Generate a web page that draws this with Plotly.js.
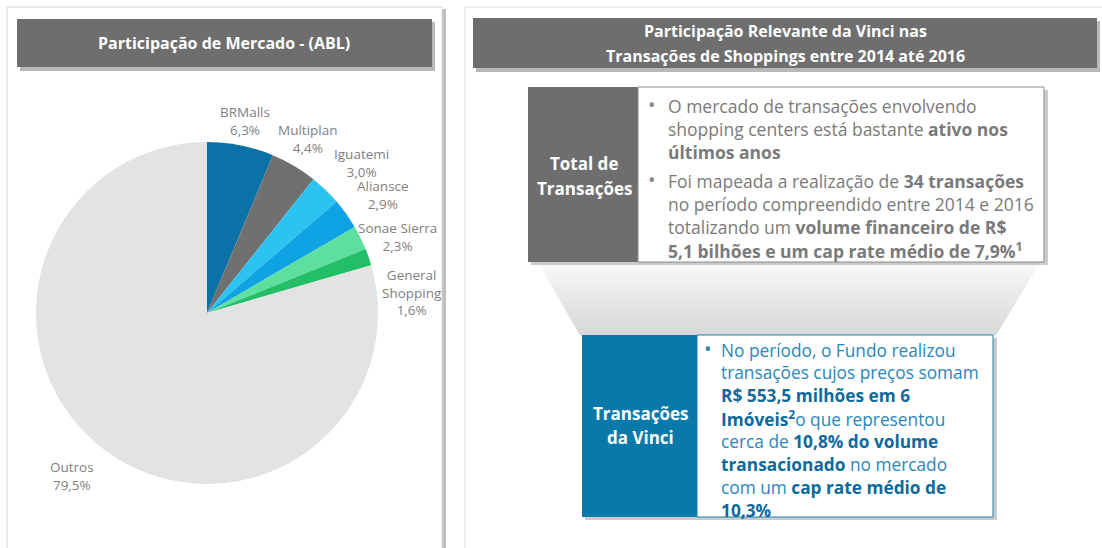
<!DOCTYPE html>
<html>
<head>
<meta charset="utf-8">
<script src="https://cdn.plot.ly/plotly-3.0.1.min.js"></script>
<style>
html,body{margin:0;padding:0;background:#fff;}
#chart{width:1102px;height:548px;}
</style>
</head>
<body>
<div id="chart"></div>
<script>
// ---------- DATA ----------
const companies = ["BRMalls", "Multiplan", "Iguatemi", "Aliansce", "Sonae Sierra", "General Shopping", "Outros"];
const shares = [6.3, 4.4, 3.0, 2.9, 2.3, 1.6, 79.5];
const sliceColors = ["#0a72a6", "#707070", "#2cc3f0", "#0fa3e3", "#5fdf9f", "#22bf68", "#e3e3e3"];
const labelText = ["BRMalls", "Multiplan", "Iguatemi", "Aliansce", "Sonae Sierra", "General<br>Shopping", "Outros"];

const leftTitle = "Participação de Mercado - (ABL)";
const rightTitle = ["Participação Relevante da Vinci nas", "Transações de Shoppings entre 2014 até 2016"];
const totalLabel = ["Total de", "Transações"];
const vinciLabel = ["Transações", "da Vinci"];
const totalBullets = [
  ["O mercado de transações envolvendo",
   "shopping centers está bastante <b>ativo nos</b>",
   "<b>últimos anos</b>"],
  ["Foi mapeada a realização de <b>34 transações</b>",
   "no período compreendido entre 2014 e 2016",
   "totalizando um <b>volume financeiro de R$</b>",
   "<b>5,1 bilhões e um cap rate médio de 7,9%<sup>1</sup></b>"]
];
const vinciBullets = [
  ["No período, o Fundo realizou",
   "transações cujos preços somam",
   "<b>R$ 553,5 milhões em 6</b>",
   "<b>Imóveis<sup>2</sup></b>o que representou",
   "cerca de <b>10,8% do volume</b>",
   "<b>transacionado</b> no mercado",
   "com um <b>cap rate médio de</b>",
   "<b>10,3%</b>"]
];

// ---------- LAYOUT HELPERS ----------
const W = 1102, H = 548;
const px = x => x / W;
const py = y => 1 - y / H;
const FONT = "Open Sans, Noto Sans, sans-serif";

function rect(x0, y0, x1, y1, fill, line, lw, opacity) {
  return {type: "rect", xref: "paper", yref: "paper", layer: "below",
    x0: px(x0), x1: px(x1), y0: py(y1), y1: py(y0),
    fillcolor: fill, opacity: opacity === undefined ? 1 : opacity,
    line: {color: line || "rgba(0,0,0,0)", width: lw || 0}};
}

const shapes = [];
// left panel
shapes.push(rect(442, 9, 446, 560, "#b8b8b8", null, 0, 0.9));
shapes.push(rect(7, 7, 442, 560, "#ffffff", "#d6d6d6", 1));
shapes.push(rect(20, 22, 435, 71, "#9a9a9a", null, 0, 0.7));
shapes.push(rect(17, 19, 432, 67, "#6e6e6e"));
// right panel
shapes.push(rect(465, 7, 1115, 560, "#ffffff", "#dcdcdc", 1));
shapes.push(rect(476, 21, 1100, 72, "#9a9a9a", null, 0, 0.7));
shapes.push(rect(473, 18, 1097, 68, "#6e6e6e"));

// funnel gradient (strips)
const fTop = 262, fBot = 335, fL0 = 538, fR0 = 1040, fL1 = 580, fR1 = 996;
const N = 30;
for (let i = 0; i < N; i++) {
  const t0 = i / N, t1 = (i + 1) / N;
  const y0 = fTop + (fBot - fTop) * t0, y1 = fTop + (fBot - fTop) * t1 + 0.6;
  const l0 = fL0 + (fL1 - fL0) * t0, r0 = fR0 + (fR1 - fR0) * t0;
  const l1 = fL0 + (fL1 - fL0) * t1, r1 = fR0 + (fR1 - fR0) * t1;
  const g = Math.round(252 - (252 - 216) * Math.pow((t0 + t1) / 2, 0.8));
  const c = `rgb(${g},${g},${g})`;
  shapes.push({type: "path", xref: "paper", yref: "paper", layer: "below",
    path: `M ${px(l0)},${py(y0)} L ${px(r0)},${py(y0)} L ${px(r1)},${py(y1)} L ${px(l1)},${py(y1)} Z`,
    fillcolor: c, line: {width: 0}});
}

// top box
shapes.push(rect(531, 90, 1048, 265, "#a8a8a8", null, 0, 0.6));
shapes.push(rect(528, 87, 638, 262, "#6e6e6e"));
shapes.push(rect(638, 87, 1044, 262, "#ffffff", "#8c8c8c", 1));
// bottom box
shapes.push(rect(585, 338, 997, 520, "#a8a8a8", null, 0, 0.6));
shapes.push(rect(582, 335, 697, 517, "#0a78a8"));
shapes.push(rect(697, 335, 993, 517, "#ffffff", "#1d80b0", 1));

// ---------- ANNOTATIONS ----------
const ann = [];
function txt(x, y, text, size, color, opts) {
  ann.push(Object.assign({xref: "paper", yref: "paper", x: px(x), y: py(y),
    text: text, showarrow: false, xanchor: "center", yanchor: "middle",
    font: {family: FONT, size: size, color: color}}, opts || {}));
}

txt(224, 43, "<b>" + leftTitle + "</b>", 16, "#ffffff");
txt(786, 31, "<b>" + rightTitle[0] + "</b>", 16, "#ffffff");
txt(786, 56, "<b>" + rightTitle[1] + "</b>", 16, "#ffffff");

txt(584, 164, "<b>" + totalLabel[0] + "</b>", 17, "#ffffff");
txt(584, 188, "<b>" + totalLabel[1] + "</b>", 17, "#ffffff");
txt(640, 413, "<b>" + vinciLabel[0] + "</b>", 17, "#ffffff");
txt(640, 437, "<b>" + vinciLabel[1] + "</b>", 17, "#ffffff");

// bullets top box
const topStarts = [106, 181];
totalBullets.forEach((lines, b) => {
  txt(652, topStarts[b] - 2, "•", 20, "#8a8a8a");
  lines.forEach((ln, i) => txt(666, topStarts[b] + i * 23, ln, 17.5, "#7a7a7a", {xanchor: "left"}));
});
// bullets bottom box
vinciBullets.forEach((lines) => {
  txt(708, 348, "•", 20, "#2a86bb");
  lines.forEach((ln, i) => txt(719, 350 + i * 22.9, ln.replace(/<b>/g, '<b style="color:#0d6a9c">'), 17.3, "#2a86bb", {xanchor: "left"}));
});

// pie labels
const labelPos = [[245, 121], [308, 139], [361, 163], [383, 195], [397, 237], [412, 292], [72, 476]];
companies.forEach((c, i) => {
  const pct = shares[i].toFixed(1).replace(".", ",") + "%";
  txt(labelPos[i][0], labelPos[i][1], labelText[i] + "<br>" + pct, 13.5, "#7f7f7f");
});

// ---------- PIE ----------
const cx = 207, cy = 313, r = 171;
const trace = {
  type: "pie",
  labels: companies,
  values: shares,
  sort: false,
  direction: "clockwise",
  rotation: 0,
  textinfo: "none",
  hoverinfo: "label+percent",
  marker: {colors: sliceColors, line: {width: 0}},
  domain: {x: [px(cx - r), px(cx + r)], y: [py(cy + r), py(cy - r)]},
  showlegend: false
};

const layout = {
  width: W, height: H,
  margin: {l: 0, r: 0, t: 0, b: 0},
  paper_bgcolor: "#ffffff",
  plot_bgcolor: "#ffffff",
  showlegend: false,
  shapes: shapes,
  annotations: ann,
  font: {family: FONT}
};

Plotly.newPlot("chart", [trace], layout, {staticPlot: true, displayModeBar: false});
</script>
</body>
</html>
